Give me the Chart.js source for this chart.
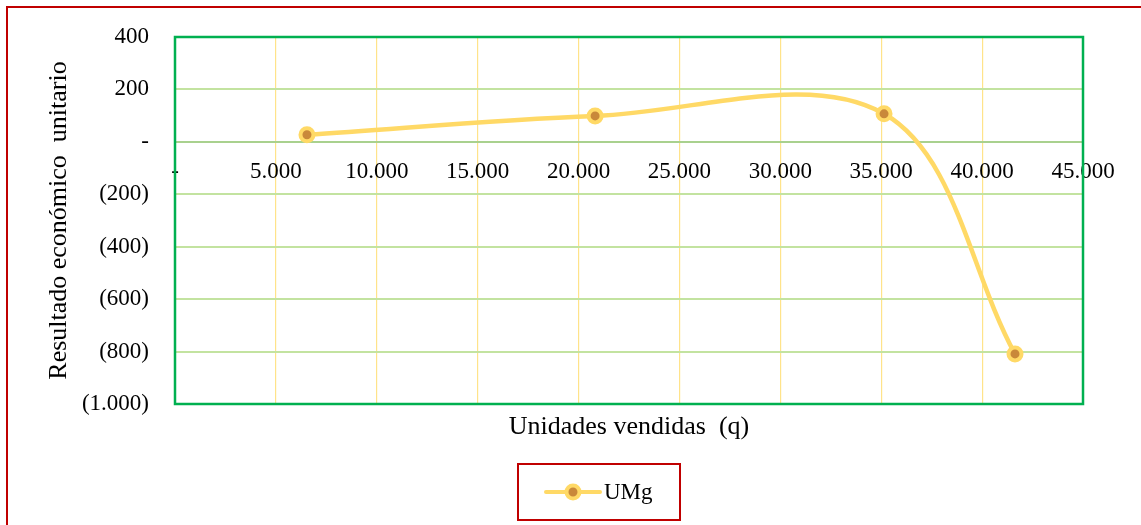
<!DOCTYPE html>
<html>
<head>
<meta charset="utf-8">
<script src="https://cdn.jsdelivr.net/npm/chart.js@4.4.1/dist/chart.umd.min.js"></script>
<style>
  html, body { margin: 0; padding: 0; background: #ffffff; }
  canvas { display: block; }
</style>
</head>
<body>
<canvas id="c" width="1141" height="525"></canvas>
<script>
// ---- data ----
const unidadesVendidas = [6540, 20820, 35140, 41630];
const umgValores = [27, 99, 107, -809];
const seriesLabel = 'UMg';
const xTitle = 'Unidades vendidas  (q)';
const yTitle = 'Resultado económico  unitario';
const xMin = 0, xMax = 45000, xStep = 5000;
const yMin = -1000, yMax = 400, yStep = 200;

const FONT = '"Liberation Serif", "Times New Roman", serif';

function fmt(v) {
  if (Math.abs(v) < 1e-9) return '-';
  const s = Math.abs(v).toFixed(0).replace(/\B(?=(\d{3})+(?!\d))/g, '.');
  return v < 0 ? '(' + s + ')' : s;
}

const points = unidadesVendidas.map((x, i) => ({ x: x, y: umgValores[i] }));

const framePlugin = {
  id: 'frame',
  beforeDraw(chart) {
    const ctx = chart.ctx;
    ctx.save();
    ctx.fillStyle = '#ffffff';
    ctx.fillRect(0, 0, chart.width, chart.height);
    ctx.strokeStyle = '#C00000';
    ctx.lineWidth = 2;
    ctx.strokeRect(7, 7, chart.width + 20, chart.height + 20);
    ctx.restore();
  },
  beforeDatasetsDraw(chart) {
    const { ctx, chartArea: a } = chart;
    ctx.save();
    ctx.strokeStyle = '#00B050';
    ctx.lineWidth = 2.5;
    ctx.strokeRect(a.left, a.top, a.right - a.left, a.bottom - a.top);
    ctx.restore();
  },
  afterDraw(chart) {
    const ctx = chart.ctx;
    const ds = chart.data.datasets[0];
    ctx.save();
    // legend box
    ctx.strokeStyle = '#C00000';
    ctx.lineWidth = 2;
    ctx.strokeRect(518, 464, 162, 56);
    // legend marker
    const cy = 492;
    ctx.strokeStyle = ds.borderColor;
    ctx.lineWidth = 4;
    ctx.lineCap = 'round';
    ctx.beginPath();
    ctx.moveTo(546, cy);
    ctx.lineTo(600, cy);
    ctx.stroke();
    ctx.beginPath();
    ctx.arc(573, cy, 6.5, 0, Math.PI * 2);
    ctx.fillStyle = ds.pointBackgroundColor;
    ctx.fill();
    ctx.lineWidth = 4;
    ctx.strokeStyle = ds.pointBorderColor;
    ctx.stroke();
    // legend text
    ctx.fillStyle = '#000000';
    ctx.font = '23px ' + FONT;
    ctx.textBaseline = 'middle';
    ctx.textAlign = 'left';
    ctx.fillText(ds.label, 604, cy + 1);
    ctx.restore();
  }
};

new Chart(document.getElementById('c'), {
  type: 'line',
  data: {
    datasets: [{
      label: seriesLabel,
      data: points,
      borderColor: '#FFD966',
      borderWidth: 4.5,
      tension: 0.35,
      pointRadius: 6.5,
      pointHoverRadius: 6.5,
      pointBackgroundColor: '#C9883A',
      pointBorderColor: '#FFD966',
      pointBorderWidth: 4,
      fill: false
    }]
  },
  options: {
    responsive: false,
    animation: false,
    devicePixelRatio: 1,
    layout: { padding: { left: 0, top: 37, right: 58, bottom: 0 } },
    plugins: {
      legend: { display: false },
      tooltip: { enabled: false }
    },
    scales: {
      x: {
        type: 'linear',
        position: { y: 0 },
        min: xMin, max: xMax,
        grid: { color: '#FFE38A', lineWidth: 1.2, drawTicks: false },
        border: { display: true, color: '#A9D18E', width: 2 },
        afterFit: (s) => { s.paddingTop = 0; s.paddingBottom = 0; },
        ticks: {
          stepSize: xStep,
          autoSkip: false,
          maxRotation: 0,
          padding: 16,
          color: '#000000',
          font: { family: FONT, size: 23 },
          callback: (v) => fmt(v)
        }
      },
      x2: {
        type: 'linear',
        position: 'bottom',
        min: xMin, max: xMax,
        grid: { display: false },
        border: { display: false },
        ticks: { display: false },
        afterFit: (s) => { s.height = 121; },
        title: {
          display: true,
          text: xTitle,
          color: '#000000',
          font: { family: FONT, size: 26 },
          padding: { top: 0, bottom: 82 }
        }
      },
      y: {
        type: 'linear',
        position: 'left',
        min: yMin, max: yMax,
        grid: { color: '#C3E3A0', lineWidth: 2, drawTicks: false },
        border: { display: false },
        afterFit: (s) => { s.width = 175; s.paddingTop = 0; s.paddingBottom = 0; },
        ticks: {
          stepSize: yStep,
          padding: 26,
          color: '#000000',
          font: { family: FONT, size: 23 },
          callback: (v) => fmt(v)
        },
        title: {
          display: true,
          text: yTitle,
          color: '#000000',
          font: { family: FONT, size: 26 },
          padding: { top: 44, bottom: 0 }
        }
      }
    }
  },
  plugins: [framePlugin]
});
</script>
</body>
</html>
